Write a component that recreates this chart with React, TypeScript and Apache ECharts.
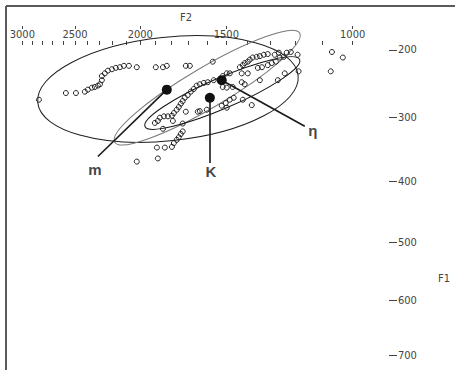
import React, { useEffect, useRef } from 'react';
import * as echarts from 'echarts';

// ---- axis ticks (Hz) ----
const F2_TICK_LABELS = [3000, 2500, 2000, 1500, 1000];
const F2_MINOR_TICKS = [3000, 2900, 2800, 2700, 2600, 2500, 2400, 2300, 2200, 2100, 2000, 1900, 1800, 1700, 1600, 1500, 1400, 1300, 1200, 1100, 1000];
const F1_TICK_LABELS = [200, 300, 400, 500, 600, 700];
const F2_RANGE = [894, 3176];
const F1_RANGE = [193, 727];

// ---- individual vowel tokens (F2, F1 in Hz) ----
const tokenF2 = [2832, 2580, 2492, 2417, 2392, 2359, 2335, 2311, 2295, 2280, 2280, 2257, 2233, 2203, 2174, 2144, 2115, 2079, 2024, 1898, 1853, 1829, 1716, 1693, 1569,
  1904, 1885, 1872, 1847, 1822, 1798, 1786, 1769, 1757, 1745, 1734, 1722, 1705, 1688, 1671, 1655, 1638, 1616, 1595, 1564, 1518, 1498, 1483, 1435, 1421, 1412, 1398, 1389, 1376, 1358, 1344, 1327, 1310, 1281, 1264, 1232, 1216, 1190,
  1853, 1734, 1792, 1716, 1734, 1745, 1757, 1769, 1786, 1798, 1841, 1891, 1885, 2024,
  1426, 1398, 1353, 1335, 1310, 1293, 1276, 1260, 1244, 1186,
  1518, 1498, 1469, 1426, 1412, 1344, 1268, 1240,
  1649, 1600, 1523, 1503, 1483, 1464, 1421, 1380,
  1067, 1031, 1071, 1498, 1638];
const tokenF1 = [273, 263, 263, 261, 258, 255, 254, 252, 250, 244, 238, 234, 230, 228, 226, 225, 223, 223, 225, 225, 225, 223, 223, 223, 217,
  308, 305, 300, 298, 298, 297, 293, 288, 284, 279, 275, 270, 266, 261, 257, 252, 250, 248, 247, 244, 238, 234, 234, 225, 222, 219, 217, 214, 211, 210, 209, 207, 206, 207, 204, 204, 203, 207,
  317, 309, 305, 291, 321, 325, 330, 334, 339, 345, 346, 346, 363, 368,
  234, 234, 226, 225, 222, 219, 217, 211, 210, 231,
  254, 255, 254, 247, 250, 244, 244, 234,
  291, 288, 282, 278, 273, 270, 273, 281,
  203, 211, 231, 285, 290];

// ---- means and their labels ----
const meanNames = ['m', 'K', 'η'];
const meanF2 = [1829, 1584, 1523];
const meanF1 = [258, 270, 244];
const pointerEndF2 = [2311, 1584, 1163];
const pointerEndF1 = [360, 370, 313];
const nameF2 = [2335, 1579, 1133];
const nameF1 = [381, 384, 320];

// ---- ellipses: centre, end of major semi-axis, end of minor semi-axis ----
const ellCenterF2 = [1822, 1598, 1520];
const ellCenterF1 = [257, 255, 263];
const ellMajorF2 = [1188, 1182, 1182];
const ellMajorF1 = [237, 176, 214];
const ellMinorF2 = [1790, 1545, 1490];
const ellMinorF1 = [335, 281, 284];

const X_OFFSET = 150;
const Y_OFFSET = 1500;
const sx = (f: number) => Math.log10(f - X_OFFSET);
const sy = (f: number) => Math.log10(f + Y_OFFSET);
const ix = (v: number) => Math.round(Math.pow(10, v) + X_OFFSET);
const iy = (v: number) => Math.round(Math.pow(10, v) - Y_OFFSET);

const FONT = '"DejaVu Sans Condensed", "Liberation Sans", sans-serif';
const ELL_COLORS = ['#1e1e1e', '#7a7a7a', '#141414'];

export default function App() {
  const ref = useRef<HTMLDivElement>(null);
  useEffect(() => {
    if (!ref.current) return;
    const chart = echarts.init(ref.current, null, { renderer: 'svg' });
    const n = Math.min(tokenF2.length, tokenF1.length);
    const tokens = [] as number[][];
    for (let i = 0; i < n; i++) tokens.push([sx(tokenF2[i]), sy(tokenF1[i])]);
    const ellData = ellCenterF2.map((_, i) => [
      sx(ellCenterF2[i]), sy(ellCenterF1[i]),
      sx(ellMajorF2[i]), sy(ellMajorF1[i]),
      sx(ellMinorF2[i]), sy(ellMinorF1[i]),
    ]);
    const xBase = {
      type: 'value', position: 'top', inverse: true,
      min: sx(F2_RANGE[0]), max: sx(F2_RANGE[1]),
      splitLine: { show: false }, axisLine: { show: false },
    };
    const option: any = {
      animation: false,
      backgroundColor: '#fff',
      title: [
        { text: 'F2', left: 180, top: 12, padding: 0, textStyle: { fontFamily: FONT, fontSize: 11, fontWeight: 'normal', color: '#444' } },
        { text: 'F1', left: 438, top: 273, padding: 0, textStyle: { fontFamily: FONT, fontSize: 11, fontWeight: 'normal', color: '#444' } },
      ],
      grid: { left: 6, right: 66, top: 45, bottom: 0, containLabel: false, outerBoundsMode: 'none' },
      xAxis: [
        {
          ...xBase,
          axisTick: { show: true, inside: false, length: 4, customValues: F2_MINOR_TICKS.map(sx), lineStyle: { color: '#444', width: 1 } },
          axisLabel: { show: true, margin: 5, customValues: F2_TICK_LABELS.map(sx), formatter: (v: number) => String(ix(v)), fontFamily: FONT, fontSize: 11, color: '#444' },
        },
        {
          ...xBase,
          offset: 16,
          axisTick: { show: true, inside: false, length: 3, customValues: F2_TICK_LABELS.map(sx), lineStyle: { color: '#444', width: 1 } },
          axisLabel: { show: false },
        },
      ],
      yAxis: {
        type: 'value', position: 'right', inverse: true,
        min: sy(F1_RANGE[0]), max: sy(F1_RANGE[1]),
        splitLine: { show: false }, axisLine: { show: false },
        axisTick: { show: true, inside: false, length: 8, customValues: F1_TICK_LABELS.map(sy), lineStyle: { color: '#444', width: 1 } },
        axisLabel: { show: true, margin: 9, customValues: F1_TICK_LABELS.map(sy), formatter: (v: number) => String(iy(v)), fontFamily: FONT, fontSize: 11, color: '#444' },
      },
      graphic: [
        { type: 'line', shape: { x1: 6, y1: 6, x2: 6, y2: 370 }, style: { stroke: '#5a5a5a', lineWidth: 2 }, z: 100 },
        { type: 'line', shape: { x1: 6, y1: 6, x2: 455, y2: 6 }, style: { stroke: '#5a5a5a', lineWidth: 2 }, z: 100 },
      ],
      series: [
        {
          type: 'custom', z: 1, silent: true, clip: false,
          data: ellData,
          encode: { x: [0, 2, 4], y: [1, 3, 5] },
          renderItem: (params: any, api: any) => {
            const c = api.coord([api.value(0), api.value(1)]);
            const M = api.coord([api.value(2), api.value(3)]);
            const m = api.coord([api.value(4), api.value(5)]);
            const rx = Math.hypot(M[0] - c[0], M[1] - c[1]);
            const ry = Math.hypot(m[0] - c[0], m[1] - c[1]);
            const rot = Math.atan2(-(M[1] - c[1]), M[0] - c[0]);
            return {
              type: 'ellipse', x: c[0], y: c[1], rotation: rot,
              shape: { cx: 0, cy: 0, rx, ry },
              style: { fill: 'none', stroke: ELL_COLORS[params.dataIndex % ELL_COLORS.length], lineWidth: 1 },
            };
          },
        },
        {
          type: 'scatter', z: 2, silent: true,
          data: tokens, symbol: 'circle', symbolSize: 5,
          itemStyle: { color: 'rgba(255,255,255,0)', borderColor: '#222', borderWidth: 1, opacity: 1 },
        },
        {
          type: 'lines', coordinateSystem: 'cartesian2d', z: 3, silent: true,
          data: meanF2.map((_, i) => ({ coords: [[sx(meanF2[i]), sy(meanF1[i])], [sx(pointerEndF2[i]), sy(pointerEndF1[i])]] })),
          lineStyle: { color: '#1a1a1a', width: 1.6, opacity: 1 },
        },
        {
          type: 'scatter', z: 4, silent: true,
          data: meanF2.map((f, i) => [sx(f), sy(meanF1[i])]),
          symbol: 'circle', symbolSize: 10,
          itemStyle: { color: '#111', opacity: 1 },
        },
        {
          type: 'scatter', z: 5, silent: true,
          data: nameF2.map((f, i) => ({ value: [sx(f), sy(nameF1[i])], name: meanNames[i] })),
          symbol: 'circle', symbolSize: 1,
          itemStyle: { color: 'rgba(0,0,0,0)' },
          label: { show: true, position: 'inside', formatter: (p: any) => p.name, fontFamily: '"Liberation Sans", Arial, sans-serif', fontSize: 15, fontWeight: 'bold', color: '#111' },
        },
      ],
    };
    chart.setOption(option);
    return () => chart.dispose();
  }, []);
  return <div ref={ref} style={{ position: 'fixed', left: 0, top: 0, width: 455, height: 370, background: '#fff' }} />;
}
